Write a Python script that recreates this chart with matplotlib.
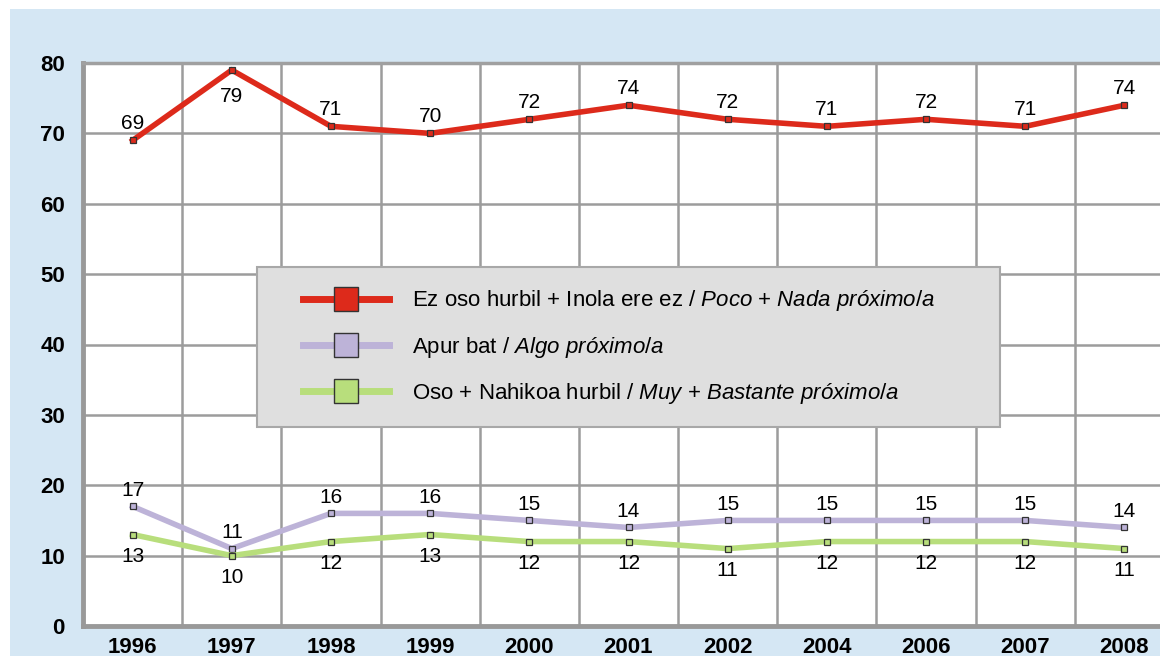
import matplotlib.pyplot as plt
from matplotlib.lines import Line2D
from matplotlib.patches import Rectangle

plt.rcParams['font.family'] = ['Liberation Sans', 'DejaVu Sans']
plt.rcParams['mathtext.fontset'] = 'custom'
plt.rcParams['mathtext.rm'] = 'Liberation Sans'
plt.rcParams['mathtext.it'] = 'Liberation Sans:italic'

# data
years = ['1996', '1997', '1998', '1999', '2000', '2001', '2002', '2004', '2006', '2007', '2008']
far = [69, 79, 71, 70, 72, 74, 72, 71, 72, 71, 74]
some = [17, 11, 16, 16, 15, 14, 15, 15, 15, 15, 14]
near = [13, 10, 12, 13, 12, 12, 11, 12, 12, 12, 11]

labels = ['Ez oso hurbil + Inola ere ez / $\\mathit{Poco}$ + $\\mathit{Nada\\ próximo/a}$',
          'Apur bat / $\\mathit{Algo\\ próximo/a}$',
          'Oso + Nahikoa hurbil / $\\mathit{Muy}$ + $\\mathit{Bastante\\ próximo/a}$']
colors = ['#DD2A1B', '#BDB3D8', '#B8DE7C']

W, H = 1160, 656
fig = plt.figure(figsize=(W / 100, H / 100), dpi=100, facecolor='white')
fig.patches.append(Rectangle((10 / W, 0), 1, 1 - 9 / H, transform=fig.transFigure,
                             facecolor='#D5E7F4', edgecolor='none', zorder=-10))

ax = fig.add_axes([83 / W, 1 - 626 / H, (1174 - 83) / W, (626 - 63) / H])
ax.set_facecolor('white')
x = list(range(len(years)))

ax.set_xlim(-0.5, len(years) - 0.5)
ax.set_ylim(0, 80)
ax.set_yticks(range(0, 81, 10))
ax.set_xticks(x)
ax.set_xticklabels(years)
ax.set_xticks([i + 0.5 for i in x[:-1]], minor=True)
ax.grid(True, which='minor', axis='x', color='#9C9C9C', lw=1.8)
ax.grid(True, which='major', axis='y', color='#9C9C9C', lw=1.8)
ax.set_axisbelow(True)
ax.tick_params(which='both', length=0)
ax.tick_params(axis='y', pad=13, labelsize=16)
ax.tick_params(axis='x', pad=8, labelsize=16)
for t in ax.get_xticklabels() + ax.get_yticklabels():
    t.set_fontweight('bold')
for s in ['left', 'bottom']:
    ax.spines[s].set_color('#999999')
    ax.spines[s].set_linewidth(3.5)
ax.spines['top'].set_color('#A0A0A0')
ax.spines['top'].set_linewidth(2.5)
ax.spines['right'].set_visible(False)

series = [far, some, near]
for vals, c in zip(series, colors):
    ax.plot(x, vals, color=c, lw=4, marker='s', ms=5, mfc=c, mec='#333333', mew=0.9,
            solid_joinstyle='miter', zorder=3)

# data labels: red above (1997 below), purple above, green below
for i, v in enumerate(far):
    dy = -19 if i == 1 else 12
    ax.annotate(str(v), (i, v), xytext=(0, dy), textcoords='offset points',
                ha='center', va='center', fontsize=15)
for i, v in enumerate(some):
    ax.annotate(str(v), (i, v), xytext=(0, 11.5), textcoords='offset points',
                ha='center', va='center', fontsize=15)
for i, v in enumerate(near):
    ax.annotate(str(v), (i, v), xytext=(0, -15.5), textcoords='offset points',
                ha='center', va='center', fontsize=15)

# legend box
fig.patches.append(Rectangle((257 / W, 1 - 427 / H), (1000 - 257) / W, 160 / H,
                             transform=fig.transFigure, facecolor='#DFDFDF',
                             edgecolor='#A8A8A8', lw=1.5, zorder=5))
handles = [Line2D([], [], color=c, lw=5, marker='s', ms=17, mfc=c, mec='#333333', mew=1)
           for c in colors]
leg = fig.legend(handles, labels, loc='center left', bbox_to_anchor=(303 / W, 1 - 347 / H),
                 frameon=False, fontsize=16, handlelength=3.85, handletextpad=1.05,
                 labelspacing=0.95, borderpad=0, borderaxespad=0, numpoints=1)
leg.set_zorder(6)

fig.savefig('out.png', dpi=100, facecolor='white')
